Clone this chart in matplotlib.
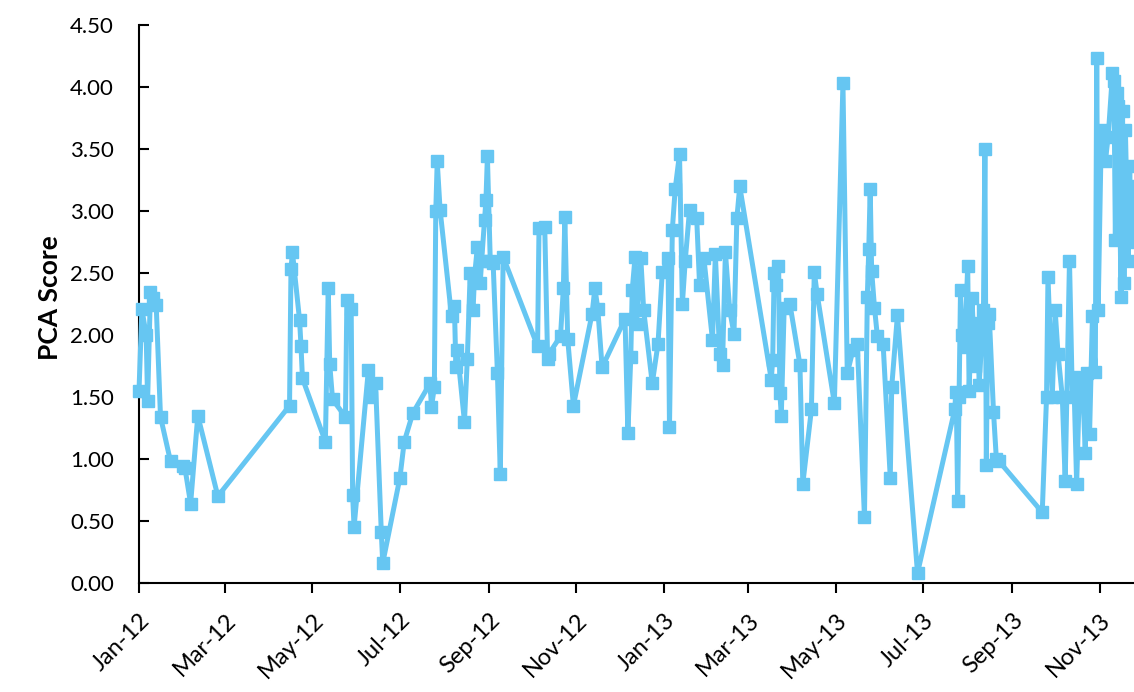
import numpy as np
import pandas as pd
import matplotlib
matplotlib.use("Agg")
import matplotlib.pyplot as plt
import matplotlib.dates as mdates

# days counted from 1 Jan 2012
day_offset = [
    0, 2, 5, 6, 8, 10, 12, 15, 22, 31, 32, 36, 41, 55,
    105, 106, 107, 112, 113, 114, 130, 132, 133, 135, 144, 145, 148, 149, 150,
    160, 162, 165, 169, 170,
    182, 185, 191, 203, 204, 206, 207, 208, 210, 218, 220, 221, 222, 227, 229,
    231, 233, 234, 236, 238, 239, 241, 242, 243, 245, 247, 250, 252, 254,
    278, 279, 283, 285, 286, 294, 296, 297, 299, 303, 316, 318, 320, 323,
    339, 341, 343, 344, 346, 347, 350, 352, 358, 362, 365, 369, 370, 372, 374,
    377, 379, 381, 384, 389, 391, 394, 400, 402, 405, 407, 409, 412, 415, 417, 419,
    441, 442, 443, 444, 446, 447, 448, 450, 454, 461, 463, 469, 471, 473, 485,
    491, 494, 498, 501, 506, 508, 509, 510, 511, 513, 515, 519, 524, 525, 529, 543,
    569, 570, 571, 572, 573, 574, 576, 578, 579, 581, 583, 585, 586, 589, 590,
    591, 592, 593, 596, 598, 600,
    630, 633, 634, 637, 639, 641, 644, 646, 649, 651, 652, 654, 656, 658, 660,
    661, 663, 665, 667, 668, 669, 671, 672, 674, 676, 679, 680, 681, 682, 683,
    685, 686, 687, 688, 690, 691, 692, 694, 697,
]
pca_score = [
    1.55, 2.21, 2.00, 1.47, 2.35, 2.30, 2.24, 1.34, 0.98, 0.94, 0.93, 0.64, 1.35, 0.70,
    1.43, 2.53, 2.67, 2.12, 1.91, 1.65, 1.14, 2.38, 1.77, 1.48, 1.34, 2.28, 2.21, 0.71, 0.45,
    1.72, 1.50, 1.61, 0.41, 0.16,
    0.85, 1.14, 1.37, 1.61, 1.42, 1.58, 3.00, 3.40, 3.01, 2.15, 2.23, 1.74, 1.88, 1.30, 1.81,
    2.50, 2.20, 2.47, 2.71, 2.42, 2.60, 2.93, 3.09, 3.44, 2.60, 2.58, 1.69, 0.88, 2.63,
    1.91, 2.86, 2.87, 1.81, 1.85, 1.99, 2.38, 2.95, 1.97, 1.43, 2.17, 2.38, 2.21, 1.74,
    2.13, 1.21, 1.82, 2.36, 2.63, 2.09, 2.62, 2.20, 1.61, 1.93, 2.51, 2.62, 1.26, 2.85, 3.18,
    3.46, 2.25, 2.60, 3.01, 2.94, 2.40, 2.62, 1.96, 2.65, 1.85, 1.76, 2.67, 2.20, 2.01, 2.94, 3.20,
    1.64, 1.80, 2.50, 2.40, 2.56, 1.53, 1.35, 2.22, 2.25, 1.76, 0.80, 1.40, 2.51, 2.33, 1.45,
    4.03, 1.69, 1.88, 1.93, 0.53, 2.31, 2.69, 3.18, 2.52, 2.22, 1.99, 1.93, 0.85, 1.58, 2.16, 0.08,
    1.40, 1.54, 0.66, 1.50, 2.36, 2.00, 1.90, 2.56, 1.55, 2.30, 1.75, 2.10, 1.60, 2.20, 3.50,
    0.95, 2.10, 2.17, 1.38, 1.00, 0.98,
    0.57, 1.50, 2.47, 1.50, 2.20, 1.85, 1.50, 0.82, 2.60, 1.50, 1.66, 0.80, 1.60, 1.65, 1.05,
    1.69, 1.20, 2.15, 1.70, 4.23, 2.20, 3.50, 3.65, 3.40, 3.60, 4.11, 4.05, 2.77, 3.95, 3.85,
    2.31, 3.81, 2.42, 3.65, 2.60, 3.36, 2.75, 3.20, 3.00,
]

start = pd.Timestamp("2012-01-01")
dates = start + pd.to_timedelta(day_offset, unit="D")

plt.rcParams['font.family'] = ['Lato', 'DejaVu Sans']

fig = plt.figure(figsize=(11.34, 6.92), dpi=100)
ax = fig.add_axes([139 / 1134, 1 - 583 / 692, 1 - 139 / 1134, (583 - 25) / 692])

line_color = '#66C6F2'
ax.plot(dates, pca_score, color=line_color, linewidth=3.6, marker='s',
        markersize=8, markerfacecolor=line_color, markeredgecolor=line_color,
        clip_on=False, zorder=3)

ax.set_xlim(start, start + pd.Timedelta(days=694))
ax.set_ylim(0, 4.5)
ax.set_yticks(np.arange(0, 4.51, 0.5))
ax.yaxis.set_major_formatter(matplotlib.ticker.FormatStrFormatter('%.2f'))

ax.xaxis.set_major_locator(mdates.MonthLocator(bymonth=[1, 3, 5, 7, 9, 11]))
ax.xaxis.set_major_formatter(mdates.DateFormatter('%b-%y'))

for lab in ax.get_xticklabels():
    lab.set_rotation(45)
    lab.set_ha('right')
    lab.set_rotation_mode('anchor')

ax.tick_params(axis='x', direction='out', length=7, width=1.5, labelsize=17, pad=12)
ax.tick_params(axis='y', direction='in', length=7, width=1.5, labelsize=16, pad=18)

for side in ['top', 'right']:
    ax.spines[side].set_visible(False)
for side in ['left', 'bottom']:
    ax.spines[side].set_linewidth(1.5)
    ax.spines[side].set_color('black')

ax.set_ylabel('PCA Score', fontsize=19, fontweight='bold')
ax.yaxis.set_label_coords(-0.077, 0.512)

fig.savefig('out.png', dpi=100)
